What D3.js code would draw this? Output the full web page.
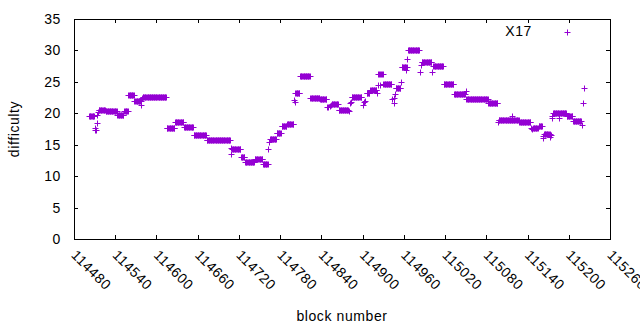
<!DOCTYPE html>
<html>
<head>
<meta charset="utf-8">
<script src="https://cdn.jsdelivr.net/npm/d3@7"></script>
<style>
  body { margin: 0; background: #fff; }
  svg { display: block; font-family: "Liberation Sans", Arial, sans-serif; }
  svg text { font-size: 14px; letter-spacing: 0.6px; }
</style>
</head>
<body>
<svg id="chart" width="640" height="330"></svg>
<script>
// runs of blocks that share the same difficulty
var runStart = [114502, 114516, 114526, 114543, 114553, 114559, 114568, 114580, 114615, 114627,
  114640, 114654, 114673, 114710, 114723, 114729, 114743, 114755, 114765, 114775,
  114782, 114790, 114802, 114809, 114824, 114838, 114855, 114865, 114884, 114906,
  114911, 114926, 114930, 114948, 114957, 114966, 114986, 115003, 115018, 115033,
  115051, 115070, 115083, 115098, 115114, 115128, 115148, 115156, 115164, 115177,
  115197, 115206];
var runEnd = [114509, 114525, 114542, 114552, 114558, 114567, 114577, 114614, 114626, 114639,
  114653, 114672, 114707, 114722, 114728, 114742, 114754, 114762, 114774, 114781,
  114789, 114799, 114808, 114823, 114837, 114847, 114864, 114879, 114898, 114910,
  114920, 114929, 114942, 114955, 114964, 114982, 115000, 115017, 115032, 115049,
  115069, 115082, 115096, 115112, 115127, 115144, 115155, 115161, 115172, 115196,
  115205, 115218];
var runDiff = [19.5, 20.5, 20.3, 19.7, 20.3, 22.9, 22.0, 22.6, 17.6, 18.6,
  17.8, 16.5, 15.7, 14.3, 13.1, 12.3, 12.8, 11.9, 15.9, 16.9,
  18.0, 18.3, 23.2, 26.0, 22.4, 22.2, 21.5, 20.5, 22.6, 23.2,
  23.65, 26.25, 24.65, 24.1, 27.4, 30.0, 28.1, 27.6, 24.65, 23.0,
  22.35, 22.2, 21.6, 18.9, 19.0, 18.6, 17.6, 17.9, 16.75, 20.0,
  19.5, 18.7];

// single blocks away from the runs
var soloBlock = [114510, 114511, 114512, 114513, 114514, 114515, 114578, 114579, 114708, 114709,
  114763, 114764, 114800, 114801, 114848, 114850, 114852, 114854, 114880, 114881,
  114883, 114900, 114902, 114904, 114921, 114922, 114923, 114924, 114925, 114943,
  114945, 114946, 114947, 114956, 114963, 114965, 114983, 114985, 115001, 115050,
  115097, 115113, 115117, 115145, 115146, 115162, 115163, 115173, 115174, 115175,
  115176, 115186, 115219, 115221, 115222];
var soloDiff = [17.3, 17.6, 17.4, 18.4, 19.8, 20.2, 21.3, 22.4, 14.4, 13.5,
  14.3, 15.5, 22.1, 21.8, 20.95, 20.95, 21.1, 21.3, 20.3, 21.6,
  21.8, 21.3, 21.85, 22.0, 23.2, 24.5, 26.3, 26.2, 24.5, 22.2,
  21.7, 22.4, 23.0, 25.0, 26.9, 28.7, 26.6, 27.7, 26.6, 23.6,
  18.6, 18.9, 19.5, 17.6, 17.5, 16.4, 16.0, 16.3, 16.6, 19.2,
  19.6, 19.2, 18.1, 21.6, 24.1];

var xTicks = d3.range(114480, 115261, 60);
var yTicks = d3.range(0, 36, 5);
var seriesName = "X17";
var purple = "#9400d3";

var points = [];
runStart.forEach(function(s, i) {
  for (var b = s; b <= runEnd[i]; b++) points.push({block: b, diff: runDiff[i]});
});
soloBlock.forEach(function(b, i) {
  points.push({block: b, diff: soloDiff[i]});
});

var plotLeft = 74, plotRight = 610, plotTop = 19, plotBottom = 239;

var x = d3.scaleLinear().domain([114480, 115260]).range([plotLeft, plotRight]);
var y = d3.scaleLinear().domain([0, 35]).range([plotBottom, plotTop]);

var svg = d3.select("#chart");
var plus = "M-3,0H3M0,-3V3";

// snap a marker centre to the pixel grid so the 1px strokes stay sharp
function snap(v) { return Math.round(v) + 0.5; }

function styleAxis(g) {
  g.selectAll("path, line").attr("stroke", "#000").attr("shape-rendering", "crispEdges");
  g.selectAll("text").attr("fill", "#000");
  g.attr("font-family", null).attr("font-size", null);
}

svg.append("g")
  .attr("transform", "translate(0," + plotBottom + ")")
  .call(d3.axisBottom(x).tickValues(xTicks).tickFormat(d3.format("d")).tickSize(-4).tickSizeOuter(0))
  .call(styleAxis)
  .selectAll("text")
  .attr("x", 0).attr("y", 0).attr("dy", "0.71em")
  .attr("text-anchor", "start")
  .attr("transform", "translate(3,10) rotate(45)");

svg.append("g")
  .attr("transform", "translate(0," + plotTop + ")")
  .call(d3.axisTop(x).tickValues(xTicks).tickFormat("").tickSize(-4).tickSizeOuter(0))
  .call(styleAxis);

svg.append("g")
  .attr("transform", "translate(" + plotLeft + ",0)")
  .call(d3.axisLeft(y).tickValues(yTicks).tickSize(-4).tickSizeOuter(0).tickPadding(13))
  .call(styleAxis);

svg.append("g")
  .attr("transform", "translate(" + plotRight + ",0)")
  .call(d3.axisRight(y).tickValues(yTicks).tickFormat("").tickSize(-4).tickSizeOuter(0))
  .call(styleAxis);

svg.append("g")
  .selectAll("path")
  .data(points)
  .join("path")
  .attr("d", plus)
  .attr("transform", function(d) { return "translate(" + snap(x(d.block)) + "," + snap(y(d.diff)) + ")"; })
  .attr("stroke", purple)
  .attr("stroke-width", 1)
  .attr("fill", "none");

// legend
svg.append("text")
  .attr("x", 532).attr("y", 31).attr("dy", "0.35em")
  .attr("text-anchor", "end")
  .text(seriesName);
svg.append("path")
  .attr("d", plus)
  .attr("transform", "translate(567.5,32.5)")
  .attr("stroke", purple)
  .attr("fill", "none");

svg.append("text")
  .attr("transform", "translate(19," + (plotTop + plotBottom) / 2 + ") rotate(-90)")
  .attr("text-anchor", "middle")
  .text("difficulty");

svg.append("text")
  .attr("x", (plotLeft + plotRight) / 2).attr("y", 321)
  .attr("text-anchor", "middle")
  .text("block number");
</script>
</body>
</html>
